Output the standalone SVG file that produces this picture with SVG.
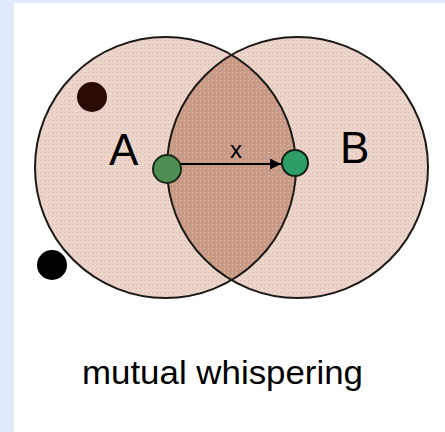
<svg xmlns="http://www.w3.org/2000/svg" width="445" height="432" viewBox="0 0 445 432">
<style>
.ring{fill:none;stroke:#1e1a18;stroke-width:2}
.lbl{font-family:"Liberation Sans",Arial,sans-serif;fill:#000}
</style>
<defs>
<pattern id="dith" width="4" height="4" patternUnits="userSpaceOnUse">
<rect width="4" height="4" fill="#EDD4CB"/>
<rect x="0" y="0" width="1" height="1" fill="#E0B0B2"/>
<rect x="2" y="2" width="1" height="1" fill="#D9D6B0"/>
</pattern>
<pattern id="dith2" width="4" height="4" patternUnits="userSpaceOnUse">
<rect width="4" height="4" fill="#C99A88"/>
<rect x="0" y="0" width="1" height="1" fill="#E8B890"/>
<rect x="2" y="2" width="1" height="1" fill="#B8A080"/>
</pattern>
<marker id="ah" viewBox="0 0 10 10" refX="10" refY="5" markerWidth="15" markerHeight="11" markerUnits="userSpaceOnUse" orient="auto">
<path d="M0,0 L10,5 L0,10 Z" fill="#000"/>
</marker>
</defs>
<rect width="445" height="432" fill="#E0E8FC"/>
<rect x="14" y="3" width="431" height="429" fill="#FFFFFF"/>
<g id="circle-A"><circle cx="165.5" cy="167.5" r="130.5" fill="url(#dith)"/></g>
<g id="circle-B"><circle cx="297.5" cy="167.5" r="130.5" fill="url(#dith)"/></g>
<g id="overlap"><path d="M231.5,55 A130.5,130.5 0 0 1 231.5,280 A130.5,130.5 0 0 1 231.5,55 Z" fill="url(#dith2)"/></g>
<circle class="ring" cx="165.5" cy="167.5" r="130.5"/>
<circle class="ring" cx="297.5" cy="167.5" r="130.5"/>
<g id="dot-dark"><circle cx="92" cy="97" r="15" fill="#2A0A04"/></g>
<g id="dot-black"><circle cx="52" cy="265" r="15" fill="#000"/></g>
<g id="label-A"><text class="lbl" x="109" y="165" font-size="44">A</text></g>
<g id="label-B"><text class="lbl" x="340" y="163" font-size="44">B</text></g>
<g id="connectors">
<line x1="167" y1="164" x2="281" y2="164" stroke="#000" stroke-width="2" marker-end="url(#ah)"/>
<text class="lbl" x="230" y="158" font-size="24" fill="#3a3020">x</text>
</g>
<g id="node-A"><circle cx="167" cy="169" r="14" fill="#4E8E52" stroke="#1a2a1a" stroke-width="2"/></g>
<g id="node-B"><circle cx="295" cy="163" r="13" fill="#2E9E68" stroke="#102018" stroke-width="2"/></g>
<g id="caption"><text class="lbl" x="82" y="384" font-size="34" textLength="281" lengthAdjust="spacingAndGlyphs">mutual whispering</text></g>
</svg>
